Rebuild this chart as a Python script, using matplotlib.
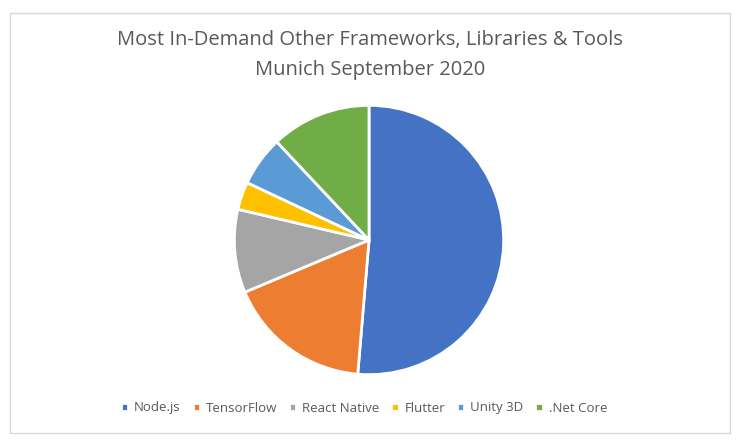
import matplotlib

matplotlib.use("Agg")
import matplotlib.pyplot as plt
from matplotlib.patches import Rectangle

# Share of job ads per tool
labels = ["Node.js", "TensorFlow", "React Native", "Flutter", "Unity 3D", ".Net Core"]
counts = [77, 26, 15, 5, 9, 18]
colors = ["#4472c4", "#ed7d31", "#a5a5a5", "#ffc000", "#5b9bd5", "#70ad47"]

W, H = 741, 447
TEXT = "#595959"
plt.rcParams["font.family"] = ["Open Sans", "DejaVu Sans"]

fig = plt.figure(figsize=(W / 100, H / 100), dpi=100)

# chart frame
fig.patches.append(Rectangle((9.5 / W, 1 - 433.3 / H), 720 / W, 420 / H,
                             transform=fig.transFigure, fill=False,
                             edgecolor="#d9d9d9", linewidth=1))

fig.text(370 / W, 1 - 40 / H, "Most In-Demand Other Frameworks, Libraries & Tools",
         ha="center", va="center", fontsize=14.5, color=TEXT)
fig.text(370 / W, 1 - 70 / H, "Munich September 2020",
         ha="center", va="center", fontsize=14.5, color=TEXT)

cx, cy, r = 369, 240, 136
ax = fig.add_axes([(cx - r) / W, (H - cy - r) / H, 2 * r / W, 2 * r / H])
wedges, _ = ax.pie(counts, colors=colors, startangle=90, counterclock=False,
                   wedgeprops={"edgecolor": "white", "linewidth": 2})
ax.set_xlim(-1.01, 1.01)
ax.set_ylim(-1.01, 1.01)
ax.set_aspect("equal")

leg = fig.legend(wedges, labels, loc="center", bbox_to_anchor=(364 / W, 1 - 408 / H),
                 ncol=len(labels), frameon=False, fontsize=9.5, handlelength=0.55,
                 handleheight=0.55, handletextpad=0.45, columnspacing=0.9,
                 labelcolor=TEXT)

fig.savefig("out.png", dpi=100)
plt.close(fig)
